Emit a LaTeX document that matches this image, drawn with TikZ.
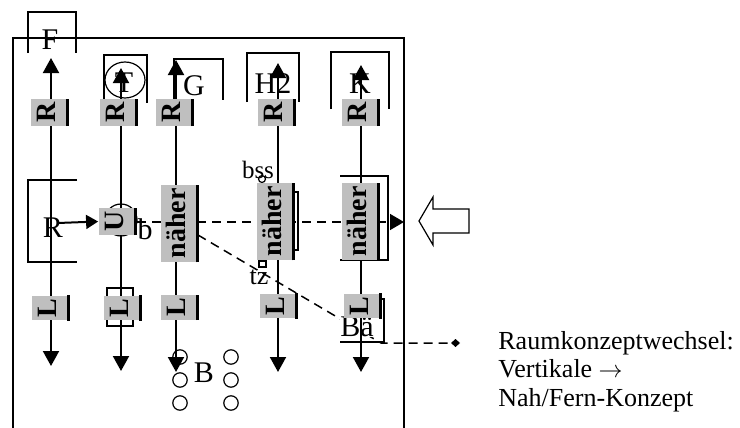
\documentclass[tikz,border=0pt]{standalone}
\usepackage{fontspec}
\setmainfont{Liberation Serif}
\usetikzlibrary{arrows.meta,calc}

\tikzset{
  thinline/.style={line width=0.6pt},
  colarrow/.style={line width=1pt, {Triangle[length=7.5pt,width=8pt]}-{Triangle[length=7.5pt,width=8pt]}},
  pusharrow/.style={line width=1pt, -{Triangle[length=6pt,width=7pt]}},
  dashline/.style={line width=0.75pt, dash pattern=on 4.5pt off 3pt},
  tag/.style={rotate=90, fill=gray!50, inner xsep=1.5pt, inner ysep=2.5pt,
    text height=9.8pt, text depth=4.2pt, font=\fontsize{14}{16}\selectfont\bfseries},
  tagbar/.style={line width=1.5pt},
  letter/.style={inner sep=0pt, font=\fontsize{15}{17}\selectfont},
}

\begin{document}
\begin{tikzpicture}[x=0.5pt, y=-0.5pt]
\useasboundingbox (0,0) rectangle (740,428);

% --- Frame (open at the bottom) ---
\draw[thinline] (13,428) -- (13,38) -- (404,38) -- (404,428);

% --- Brackets ---
\draw[thinline] (28,53) -- (28,12) -- (76,12) -- (76,53);
\draw[thinline] (104,100) -- (104,55) -- (147,55) -- (147,103);
\draw[thinline] (174,100) -- (174,59) -- (223,59) -- (223,100);
\draw[thinline] (247,102) -- (247,53) -- (299,53) -- (299,102);
\draw[thinline] (331,109) -- (331,52) -- (389,52) -- (389,109);
\draw[thinline] (77,180) -- (28,180) -- (28,262) -- (77,262);
\draw[thinline] (295,192) -- (298,192) -- (298,250) -- (295,250);
\draw[thinline] (340,176) -- (388,176) -- (388,260) -- (340,260);
\draw[thinline] (107,288) rectangle (133,326);
\draw[thinline] (377,299) -- (384,299) -- (384,342) -- (340,342);

% --- Circles and marks ---
\draw[thinline] (125,80) ellipse [x radius=10pt, y radius=9pt];
\draw[thinline] (121,220) circle (8pt);
\draw[thinline] (262,179) circle (1.75pt);
\draw[thinline] (259,261) rectangle (266,267);
\foreach \cx in {180,231}
  \foreach \cy in {357,380,403}
    \draw[thinline] (\cx,\cy) circle (3.6pt);

% --- Dashed connectors ---
\coordinate (hstart) at (137,222);
\coordinate (hend) at (404,222);
\coordinate (dgstart) at (198,235);
\coordinate (dgbend) at (381,343);
\coordinate (dgend) at (460,343);
\draw[dashline, -{Triangle[length=7pt,width=8pt]}] (hstart) -- (hend);
\draw[dashline, -{Diamond[length=4.5pt,width=4pt]}] (dgstart) -- (dgbend) -- (dgend);

% --- Letters ---
\node[letter] (F) at (50,40) {F};
\node[letter] (T) at (124,83) {T};
\node[letter] (G) at (194,86) {G};
\node[letter] (H) at (273,84) {H2};
\node[letter] (K) at (360,84) {K};
\node[letter] (R) at (53,228) {R};
\node[letter] (b) at (145,229) {b};
\node[letter, font=\fontsize{12.5}{14}\selectfont] (bss) at (258,170) {bss};
\node[letter, font=\fontsize{13}{15}\selectfont] (tz) at (259,277) {tz};
\node[letter, fill=white] (Ba) at (357,327) {Bä};
\node[letter] (B) at (204,373) {B};

% --- Columns ---
\foreach \n/\x/\t/\b in {1/51/58/366, 2/121/68/371, 3/176/60/372, 4/278/63/372, 5/361/65/372}{
  \coordinate (top\n) at (\x,\t);
  \coordinate (bot\n) at (\x,\b);
  \draw[colarrow] (bot\n) -- (top\n);
}

% --- Tags ---
\node[tag, minimum width=12.5pt] (r1) at (50,112.5) {R};
\node[tag, minimum width=12.5pt] (r2) at (118.5,112.5) {R};
\node[tag, minimum width=12.5pt] (r3) at (175,112.5) {R};
\node[tag, minimum width=12.5pt] (r4) at (277,112.5) {R};
\node[tag, minimum width=12.5pt] (r5) at (361,112.5) {R};
\node[tag, minimum width=11.5pt] (u2) at (117.5,221.5) {U};
\node[tag, minimum width=38.5pt] (n3) at (180,223.5) {näher};
\node[tag, minimum width=38.5pt] (n4) at (276,221.5) {näher};
\node[tag, minimum width=38.5pt] (n5) at (361,221.5) {näher};
\node[tag, minimum width=11pt] (l1) at (51,308) {L};
\node[tag, minimum width=11pt] (l2) at (122.5,308) {L};
\node[tag, minimum width=11pt] (l3) at (179.5,307.5) {L};
\node[tag, minimum width=11pt] (l4) at (279,306) {L};
\node[tag, minimum width=11pt] (l5) at (362.5,306) {L};
\foreach \t in {r1,r2,r3,r4,r5,u2,n3,n4,n5,l1,l2,l3,l4,l5}
  \draw[tagbar] ($(\t.south west)!0.75pt!(\t.north west)$) -- ($(\t.south east)!0.75pt!(\t.north east)$);

% --- Push arrow into U ---
\coordinate (ustart) at (58,223);
\draw[pusharrow] (ustart) -- (u2.north);

% --- Block arrow ---
\draw[thinline] (419,221) -- (433,197) -- (433,209) -- (469,209) -- (469,233)
  -- (433,233) -- (433,245) -- cycle;

% --- Legend ---
\node[anchor=north west, inner sep=0pt, align=left, font=\fontsize{13}{14.25}\selectfont]
  (legend) at (498,331) {Raumkonzeptwechsel:\\Vertikale $\rightarrow$\\Nah/Fern-Konzept};

\end{tikzpicture}
\end{document}
